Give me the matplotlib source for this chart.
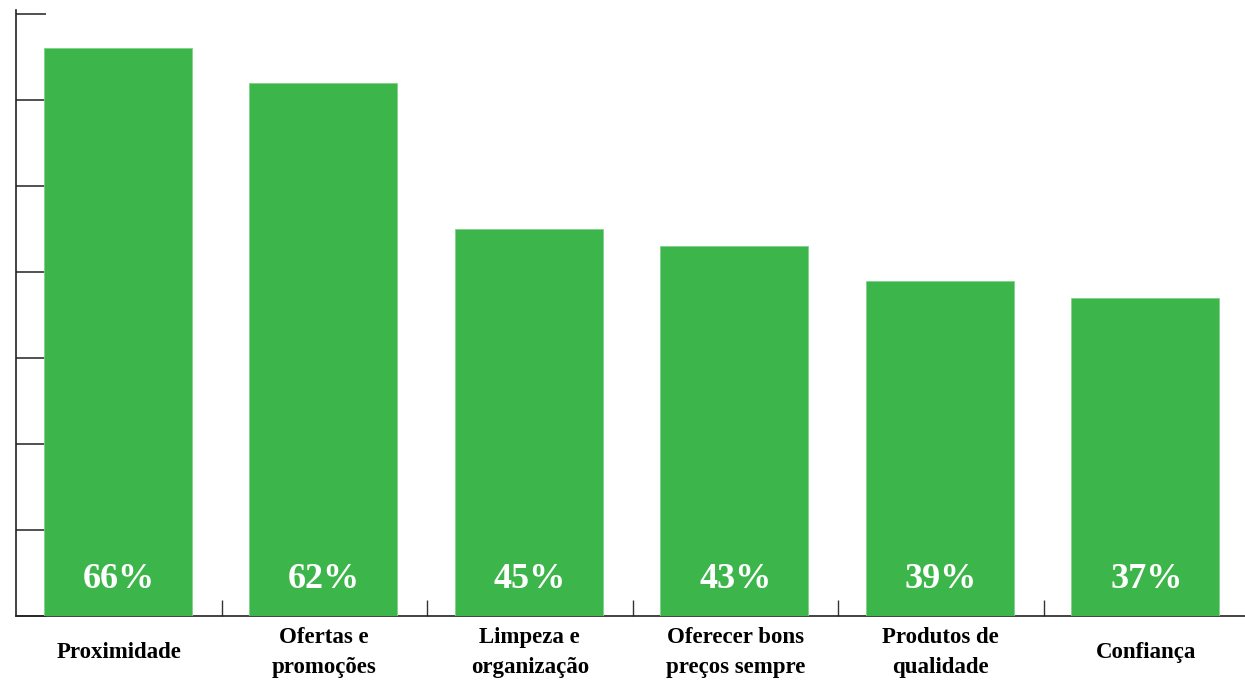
import numpy as np
import matplotlib.pyplot as plt
from matplotlib.ticker import FixedLocator

categorias = ['Proximidade', 'Ofertas e\npromoções', 'Limpeza e\norganização',
              'Oferecer bons\npreços sempre', 'Produtos de\nqualidade', 'Confiança']
valores = [66, 62, 45, 43, 39, 37]
yticks = [0, 10, 20, 30, 40, 50, 60, 70]

verde = '#3cb54a'

fig = plt.figure(figsize=(12.45, 6.8), dpi=100)
ax = fig.add_axes([16/1245, 64/680, 1 - 16/1245, 606/680])

x = np.arange(len(categorias))
ax.bar(x - 0.005, valores, width=0.72, color=verde, edgecolor='#7fd18a', linewidth=0.6, zorder=3)

for xi, v in zip(x, valores):
    ax.text(xi, 4.3, f'{v}%', ha='center', va='center', color='white',
            fontsize=26, fontweight='bold', family='Liberation Serif', zorder=4)

ax.set_xlim(-0.5, 5.48)
ax.set_ylim(0, 70.47)

ax.set_xticks(x)
ax.set_xticklabels(categorias, fontsize=16.5, fontweight='bold',
                   family='Liberation Serif', linespacing=1.55)
for lbl in ax.get_xticklabels():
    lbl.set_verticalalignment('center')
ax.tick_params(axis='x', which='major', length=0, pad=26)
ax.xaxis.set_minor_locator(FixedLocator(x[:-1] + 0.5))
ax.tick_params(axis='x', which='minor', direction='in', length=11.5, width=1.0, color='#333333')

ax.set_yticks(yticks)
ax.set_yticklabels([])
ax.tick_params(axis='y', direction='in', length=21.6, width=1.2, color='#333333')

for s in ['top', 'right']:
    ax.spines[s].set_visible(False)
for s in ['left', 'bottom']:
    ax.spines[s].set_color('#222222')
    ax.spines[s].set_linewidth(1.2)

fig.savefig('out.png', dpi=100)
